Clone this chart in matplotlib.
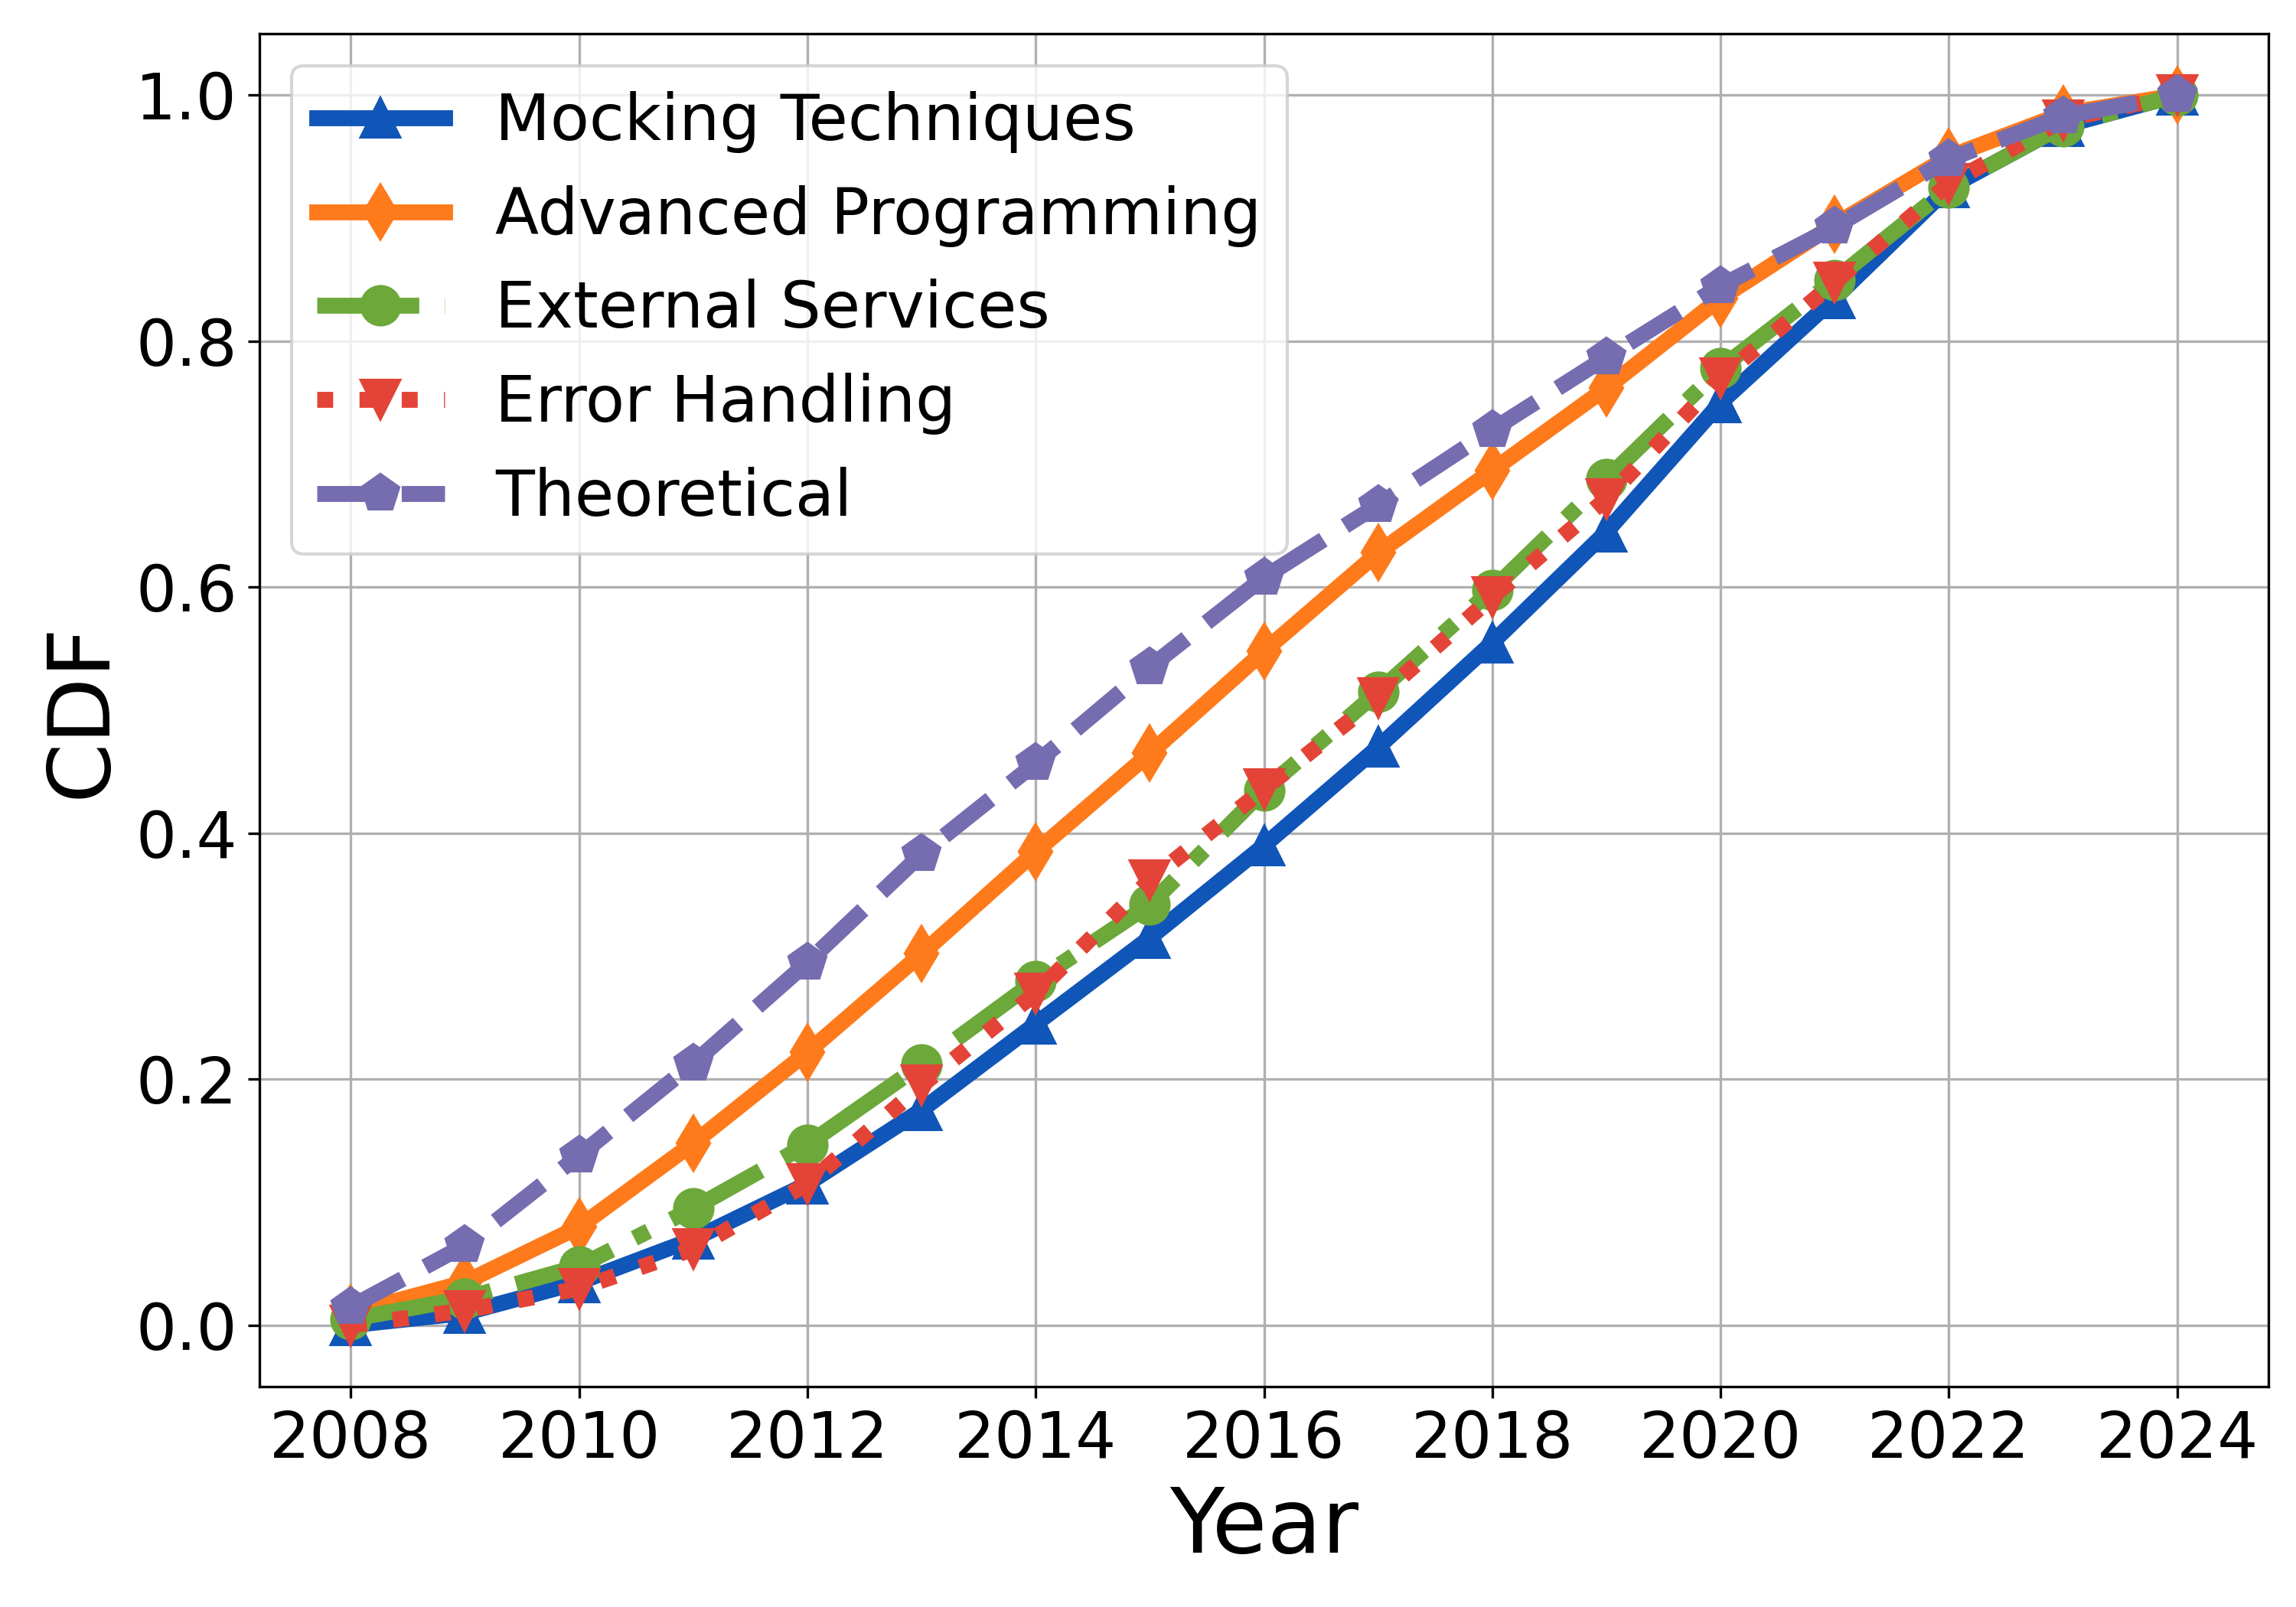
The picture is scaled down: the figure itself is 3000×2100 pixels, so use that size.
import matplotlib
matplotlib.use("Agg")
import matplotlib.pyplot as plt
import numpy as np

# Values
years = list(range(2008, 2025))

mocking = [0.0, 0.01, 0.035, 0.07, 0.115, 0.175, 0.245, 0.315, 0.39,
           0.47, 0.555, 0.645, 0.75, 0.835, 0.925, 0.975, 1.0]
advanced = [0.01, 0.035, 0.08, 0.148, 0.222, 0.302, 0.385, 0.465, 0.548,
            0.628, 0.695, 0.762, 0.835, 0.895, 0.95, 0.985, 1.0]
external = [0.005, 0.022, 0.048, 0.095, 0.147, 0.212, 0.28, 0.342, 0.435,
            0.515, 0.598, 0.688, 0.778, 0.85, 0.925, 0.975, 1.0]
errors = [0.0, 0.012, 0.03, 0.062, 0.115, 0.195, 0.27, 0.362, 0.436,
          0.51, 0.592, 0.672, 0.77, 0.848, 0.928, 0.98, 1.0]
theoretical = [0.015, 0.065, 0.138, 0.213, 0.295, 0.383, 0.457, 0.535, 0.608,
               0.667, 0.728, 0.787, 0.845, 0.893, 0.948, 0.983, 1.0]

series_names = ["Mocking Techniques", "Advanced Programming", "External Services",
                "Error Handling", "Theoretical"]
series_values = [mocking, advanced, external, errors, theoretical]

colors = ["#1055b8", "#fe7a1b", "#6ca83a", "#e34437", "#756db0"]
markers = ["^", "d", "o", "v", "p"]
styles = ["-", "-", "-.", ":", "--"]

fig, ax = plt.subplots(figsize=(10, 7), dpi=300)

for name, vals, c, m, ls in zip(series_names, series_values, colors, markers, styles):
    ax.plot(years, vals, label=name, color=c, marker=m, linestyle=ls,
            linewidth=5, markersize=12)

ax.set_xlabel("Year", fontsize=28)
ax.set_ylabel("CDF", fontsize=27)
ax.set_xticks(np.arange(2008, 2025, 2))
ax.set_yticks([0.0, 0.2, 0.4, 0.6, 0.8, 1.0])
ax.tick_params(axis="both", labelsize=20)
ax.grid(True)
ax.legend(loc="upper left", fontsize=20)

plt.subplots_adjust(left=0.113, right=0.988, top=0.979, bottom=0.137)
plt.savefig("out.png", dpi=300)
